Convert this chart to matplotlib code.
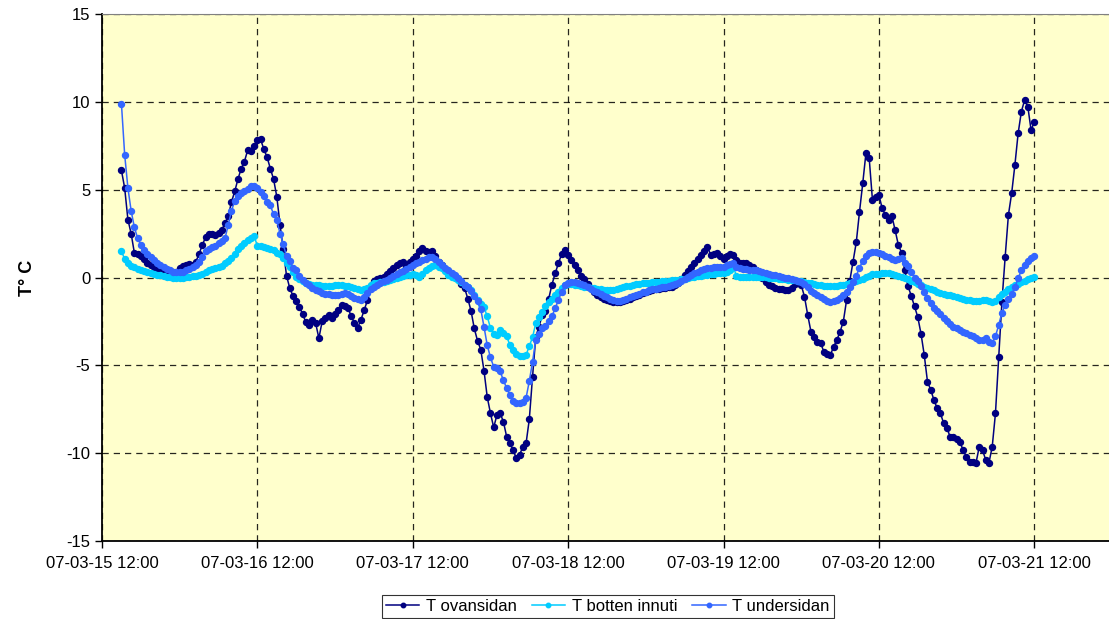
import matplotlib
import matplotlib.pyplot as plt
import matplotlib.dates as mdates
import pandas as pd

matplotlib.use("agg")

plt.rcParams["font.family"] = ["Liberation Sans", "DejaVu Sans"]
plt.rcParams["axes.unicode_minus"] = False

# half-hourly readings, 07-03-15 15:00 .. 07-03-21 12:00
times = pd.date_range("2007-03-15 15:00", periods=283, freq="30min")

t_ovansidan = [
    6.1, 5.1, 3.3, 2.5, 1.4, 1.35, 1.2, 1.05, 0.85, 0.72, 0.6, 0.5,
    0.4, 0.33, 0.3, 0.28, 0.3, 0.33, 0.55, 0.67, 0.72, 0.77, 0.71, 0.9,
    1.35, 1.85, 2.3, 2.5, 2.45, 2.42, 2.55, 2.7, 3.1, 3.5, 4.3, 4.9,
    5.6, 6.2, 6.6, 7.25, 7.2, 7.5, 7.83, 7.86, 7.3, 6.85, 6.2, 5.6,
    4.6, 3.0, 1.6, 0.1, -0.6, -1.05, -1.35, -1.66, -2.1, -2.55, -2.7, -2.4,
    -2.6, -3.46, -2.5, -2.32, -2.13, -2.3, -2.1, -1.85, -1.57, -1.6, -1.75, -2.2,
    -2.6, -2.85, -2.4, -1.85, -1.3, -0.5, -0.2, -0.1, -0.05, 0.05, 0.2, 0.35,
    0.52, 0.7, 0.85, 0.9, 0.62, 0.9, 1.05, 1.2, 1.5, 1.66, 1.5, 1.47,
    1.53, 1.2, 0.9, 0.7, 0.5, 0.35, 0.2, 0.1, -0.1, -0.35, -0.6, -1.2,
    -1.9, -2.9, -3.6, -4.1, -5.3, -6.8, -7.73, -8.53, -7.83, -7.73, -8.21, -9.06,
    -9.44, -9.82, -10.29, -10.1, -9.63, -9.44, -8.07, -5.65, -3.37, -2.8, -2.13, -1.9,
    -1.2, -0.4, 0.24, 0.81, 1.34, 1.56, 1.28, 1.0, 0.7, 0.4, 0.1, -0.1,
    -0.35, -0.6, -0.85, -1.0, -1.1, -1.2, -1.28, -1.33, -1.38, -1.41, -1.4, -1.35,
    -1.28, -1.2, -1.12, -1.05, -0.97, -0.9, -0.83, -0.78, -0.72, -0.68, -0.63, -0.6,
    -0.58, -0.55, -0.52, -0.45, -0.3, -0.1, 0.12, 0.35, 0.6, 0.8, 1.05, 1.3,
    1.5, 1.75, 1.3, 1.32, 1.38, 1.2, 1.04, 1.2, 1.34, 1.3, 1.0, 0.8,
    0.8, 0.8, 0.7, 0.6, 0.4, 0.15, -0.05, -0.25, -0.4, -0.5, -0.6, -0.65,
    -0.68, -0.7, -0.71, -0.62, -0.35, -0.24, -0.43, -1.09, -2.13, -3.08, -3.37, -3.65,
    -3.75, -4.22, -4.38, -4.41, -3.94, -3.56, -3.08, -2.51, -1.3, -0.2, 0.9, 2.0,
    3.74, 5.36, 7.1, 6.78, 4.41, 4.6, 4.7, 3.94, 3.56, 3.27, 3.5, 2.7,
    1.85, 1.41, 0.4, -0.5, -1.05, -1.65, -2.25, -3.2, -4.41, -5.93, -6.4, -6.97,
    -7.45, -7.73, -8.3, -8.58, -9.06, -9.1, -9.2, -9.35, -9.82, -10.2, -10.48, -10.5,
    -10.54, -9.63, -9.82, -10.39, -10.54, -9.63, -7.73, -4.5, -1.38, 1.18, 3.56, 4.79,
    6.4, 8.2, 9.44, 10.1, 9.72, 8.39, 8.87,
]

t_botten_innuti = [
    1.5, 1.05, 0.85, 0.68, 0.58, 0.48, 0.42, 0.36, 0.3, 0.25, 0.2, 0.16,
    0.12, 0.09, 0.05, 0.02, 0.0, -0.05, -0.03, 0.0, 0.03, 0.05, 0.07, 0.1,
    0.14, 0.2, 0.3, 0.4, 0.47, 0.52, 0.6, 0.65, 0.8, 0.92, 1.1, 1.35,
    1.62, 1.82, 1.97, 2.12, 2.25, 2.35, 1.8, 1.78, 1.75, 1.66, 1.6, 1.55,
    1.38, 1.35, 1.1, 0.82, 0.6, 0.3, 0.05, -0.1, -0.2, -0.3, -0.37, -0.4,
    -0.43, -0.45, -0.46, -0.47, -0.48, -0.47, -0.45, -0.43, -0.44, -0.47, -0.5, -0.55,
    -0.62, -0.68, -0.7, -0.66, -0.6, -0.45, -0.33, -0.3, -0.26, -0.24, -0.2, -0.15,
    -0.1, -0.05, 0.02, 0.09, 0.12, 0.16, 0.2, 0.15, 0.05, 0.2, 0.4, 0.55,
    0.68, 0.7, 0.6, 0.52, 0.38, 0.15, 0.02, -0.05, -0.15, -0.26, -0.4, -0.52,
    -0.7, -1.0, -1.3, -1.5, -1.7, -2.2, -2.89, -3.2, -3.25, -2.99, -3.15, -3.35,
    -3.84, -4.1, -4.35, -4.45, -4.47, -4.41, -3.9, -3.4, -2.6, -2.25, -1.95, -1.65,
    -1.38, -1.2, -1.0, -0.8, -0.62, -0.45, -0.35, -0.35, -0.4, -0.45, -0.48, -0.52,
    -0.56, -0.6, -0.62, -0.65, -0.68, -0.7, -0.72, -0.71, -0.7, -0.66, -0.6, -0.55,
    -0.5, -0.46, -0.42, -0.38, -0.35, -0.33, -0.32, -0.3, -0.28, -0.26, -0.24, -0.22,
    -0.2, -0.18, -0.16, -0.14, -0.12, -0.09, -0.06, -0.03, 0.02, 0.05, 0.08, 0.1,
    0.13, 0.16, 0.2, 0.22, 0.24, 0.25, 0.27, 0.3, 0.45, 0.6, 0.1, 0.05,
    0.05, 0.05, 0.05, 0.05, 0.05, 0.05, 0.04, 0.02, 0.0, -0.02, -0.04, -0.06,
    -0.08, -0.1, -0.12, -0.13, -0.15, -0.18, -0.22, -0.26, -0.3, -0.33, -0.36, -0.4,
    -0.43, -0.46, -0.48, -0.48, -0.47, -0.46, -0.45, -0.43, -0.38, -0.32, -0.27, -0.2,
    -0.14, -0.06, 0.02, 0.1, 0.18, 0.2, 0.22, 0.24, 0.24, 0.23, 0.2, 0.16,
    0.1, 0.05, -0.02, -0.1, -0.2, -0.28, -0.36, -0.44, -0.53, -0.62, -0.68, -0.74,
    -0.8, -0.86, -0.92, -0.97, -1.02, -1.06, -1.1, -1.15, -1.2, -1.26, -1.3, -1.32,
    -1.33, -1.32, -1.3, -1.28, -1.32, -1.4, -1.35, -1.1, -0.95, -0.82, -0.68, -0.55,
    -0.45, -0.35, -0.27, -0.18, -0.1, -0.03, 0.05,
]

t_undersidan = [
    9.9, 7.0, 5.1, 3.8, 2.85, 2.25, 1.85, 1.55, 1.35, 1.17, 1.0, 0.85,
    0.7, 0.58, 0.48, 0.4, 0.33, 0.3, 0.3, 0.33, 0.42, 0.5, 0.58, 0.7,
    0.9, 1.15, 1.5, 1.62, 1.72, 1.82, 1.95, 2.1, 2.23, 3.0, 3.8, 4.35,
    4.65, 4.8, 4.9, 5.05, 5.2, 5.22, 5.08, 4.88, 4.65, 4.3, 4.1, 3.6,
    3.25, 2.5, 1.9, 1.2, 0.95, 0.55, 0.4, 0.1, -0.12, -0.3, -0.45, -0.6,
    -0.7, -0.78, -0.88, -0.92, -0.95, -0.98, -1.0, -0.98, -0.93, -0.9, -0.95, -1.05,
    -1.18, -1.25, -1.28, -1.12, -0.9, -0.65, -0.55, -0.42, -0.33, -0.22, -0.12, -0.05,
    0.07, 0.2, 0.3, 0.38, 0.5, 0.6, 0.7, 0.8, 0.88, 0.97, 1.06, 1.15,
    1.15, 1.05, 0.9, 0.72, 0.52, 0.4, 0.28, 0.14, -0.05, -0.2, -0.4, -0.55,
    -0.78, -1.05, -1.35, -1.8, -2.8, -3.85, -4.55, -5.08, -5.15, -5.35, -5.85, -6.3,
    -6.69, -7.05, -7.12, -7.16, -7.1, -6.85, -5.9, -4.8, -3.55, -3.2, -2.87, -2.75,
    -2.5, -2.2, -1.75, -1.28, -0.81, -0.45, -0.3, -0.24, -0.26, -0.3, -0.35, -0.45,
    -0.55, -0.65, -0.75, -0.85, -0.95, -1.05, -1.12, -1.2, -1.28, -1.35, -1.33, -1.28,
    -1.2, -1.12, -1.05, -0.98, -0.92, -0.85, -0.8, -0.74, -0.68, -0.63, -0.58, -0.55,
    -0.53, -0.5, -0.45, -0.38, -0.3, -0.2, -0.08, 0.05, 0.15, 0.25, 0.33, 0.4,
    0.47, 0.52, 0.55, 0.57, 0.59, 0.6, 0.62, 0.7, 0.78, 0.8, 0.62, 0.52,
    0.5, 0.48, 0.45, 0.43, 0.4, 0.35, 0.3, 0.25, 0.2, 0.17, 0.15, 0.1,
    0.05, 0.0, -0.05, -0.1, -0.15, -0.2, -0.28, -0.38, -0.55, -0.75, -0.88, -0.98,
    -1.1, -1.22, -1.32, -1.38, -1.35, -1.28, -1.18, -1.0, -0.8, -0.55, -0.25, 0.1,
    0.55, 0.95, 1.25, 1.38, 1.45, 1.44, 1.4, 1.32, 1.25, 1.15, 1.05, 1.0,
    1.05, 1.1, 0.85, 0.65, 0.3, 0.0, -0.2, -0.48, -0.85, -1.15, -1.45, -1.75,
    -1.9, -2.05, -2.3, -2.45, -2.62, -2.8, -2.88, -2.98, -3.1, -3.18, -3.25, -3.35,
    -3.45, -3.55, -3.55, -3.46, -3.7, -3.72, -3.35, -2.7, -2.0, -1.57, -1.25, -0.95,
    -0.55, -0.05, 0.4, 0.7, 0.95, 1.1, 1.22,
]

series = [
    ("T ovansidan", t_ovansidan, "#000080"),
    ("T botten innuti", t_botten_innuti, "#00CCFF"),
    ("T undersidan", t_undersidan, "#3366FF"),
]

tick_times = pd.date_range("2007-03-15 12:00", "2007-03-21 12:00", freq="D")

fig = plt.figure(figsize=(11.09, 6.19), dpi=100)
ax = fig.add_axes([102 / 1109, 78 / 619, 1010 / 1109, 527 / 619])
ax.set_facecolor("#FFFFCC")

for i, (name, vals, color) in enumerate(series):
    ax.plot(times, vals, color=color, lw=1.1, marker="o", ms=4.3,
            mec=color, mfc=color, label=name, zorder=3 + i)

ax.set_xlim(pd.Timestamp("2007-03-15 12:00"), pd.Timestamp("2007-03-22 00:00"))
ax.set_ylim(-15, 15)
ax.set_yticks(range(-15, 16, 5))
ax.set_xticks(tick_times)
ax.xaxis.set_major_formatter(mdates.DateFormatter("%y-%m-%d %H:%M"))

ax.grid(True, color="black", ls=(0, (5, 4)), lw=0.9, alpha=0.85, zorder=1)
ax.set_axisbelow(True)

for side in ["top", "right"]:
    ax.spines[side].set_color("#808080")
for side in ["left", "bottom"]:
    ax.spines[side].set_color("black")
    ax.spines[side].set_linewidth(1.3)

ax.tick_params(axis="both", direction="out", length=5, width=1, labelsize=12)
ax.tick_params(axis="x", pad=6)
ax.set_ylabel("T° C", fontsize=13, fontweight="bold", labelpad=22)

leg = fig.legend(loc="lower center", bbox_to_anchor=(0.548, -0.012), ncol=3,
                 fontsize=12, frameon=True, fancybox=False, numpoints=1,
                 handlelength=2.0, handletextpad=0.4, columnspacing=0.9,
                 borderpad=0.25, markerscale=0.75)
leg.get_frame().set_edgecolor("black")
leg.get_frame().set_linewidth(0.8)

fig.savefig("out.png", dpi=100)
plt.close(fig)
